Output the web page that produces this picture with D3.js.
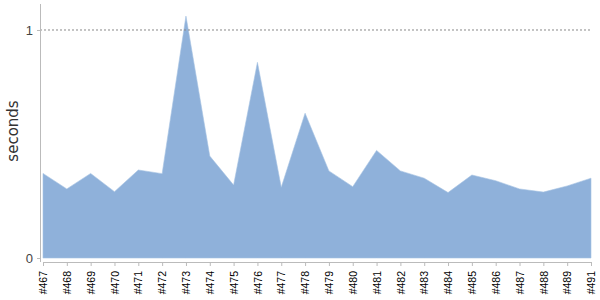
<!DOCTYPE html>
<html>
<head>
<meta charset="utf-8">
<script src="https://cdn.jsdelivr.net/npm/d3@7"></script>
<style>
body { margin: 0; background: #fff; }
svg { display: block; font-family: "DejaVu Sans", sans-serif; }
.axis path, .axis line { stroke: #bbb; }
.grid { stroke: #888; stroke-dasharray: 2,2; }
</style>
</head>
<body>
<div class="container"></div>
<script>
const WIDTH = 600
	, HEIGHT = 300;

var builds = ["#467", "#468", "#469", "#470", "#471", "#472", "#473", "#474", "#475", "#476",
	"#477", "#478", "#479", "#480", "#481", "#482", "#483", "#484", "#485", "#486",
	"#487", "#488", "#489", "#491"];
var seconds = [0.371, 0.303, 0.371, 0.291, 0.386, 0.370, 1.061, 0.447, 0.320, 0.858,
	0.310, 0.635, 0.382, 0.313, 0.472, 0.382, 0.350, 0.287, 0.364, 0.339,
	0.303, 0.289, 0.316, 0.350];
var yTicks = [0, 1];

var translate = function (x, y) {
	return "translate(" + x + "," + y + ")";
};

var svg = d3.select('.container').append('svg')
	.attr('width', WIDTH)
	.attr('height', HEIGHT);

var _xScale = d3.scalePoint().domain(builds).range([43, 591]);
var _yScale = d3.scaleLinear().domain([0, 1.114]).range([258, 4]);

// area
var area = d3.area()
	.x(function (d, i) { return _xScale(builds[i]); })
	.y0(_yScale(0))
	.y1(function (d) { return _yScale(d); });

svg.append('path')
	.attr('d', area(seconds))
	.attr('fill', '#8fb1da')
	.attr('stroke', '#a6c2e3')
	.attr('stroke-width', 0.6);

// grid line at 1
svg.append('line')
	.classed('grid', true)
	.attr('x1', 40).attr('x2', 591)
	.attr('y1', _yScale(1)).attr('y2', _yScale(1));

// y axis
var yAxis = svg.append('g')
	.classed('axis', true)
	.attr('transform', translate(40, 0))
	.call(d3.axisLeft(_yScale).tickValues(yTicks).tickFormat(d3.format('d')).tickSize(3).tickSizeOuter(0));
yAxis.select('.domain').attr('d', 'M0.5,4V262');
yAxis.selectAll('text')
	.attr('fill', '#444')
	.attr('font-size', 13)
	.attr('x', -7);

// x axis
var xAxis = svg.append('g')
	.classed('axis', true)
	.attr('transform', translate(0, 262))
	.call(d3.axisBottom(_xScale).tickSize(4).tickSizeOuter(0));
xAxis.selectAll('text')
	.attr('fill', '#000')
	.attr('font-size', 10.5)
	.attr('text-anchor', 'end')
	.attr('transform', 'rotate(-90)')
	.attr('x', -9)
	.attr('y', 0)
	.attr('dy', '0.35em');

// y label
svg.append('text')
	.attr('transform', translate(18, 131) + ' rotate(-90)')
	.attr('text-anchor', 'middle')
	.attr('font-size', 15)
	.attr('fill', '#333')
	.text('seconds');
</script>
</body>
</html>
